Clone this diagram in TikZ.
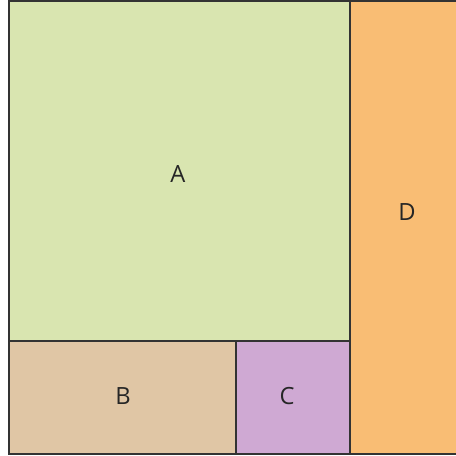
\documentclass[tikz,border=0pt]{standalone}
\usepackage{fontspec}
\setmainfont{Open Sans}
\definecolor{cA}{HTML}{D9E5B0}
\definecolor{cB}{HTML}{E0C6A5}
\definecolor{cC}{HTML}{CFA9D3}
\definecolor{cD}{HTML}{F9BD74}
\definecolor{edge}{HTML}{333333}
\tikzset{
  box/.style={draw=edge, line width=1.2pt},
  lbl/.style={font=\fontsize{13.5pt}{16pt}\selectfont, text=black!85, inner sep=0pt}
}
\begin{document}
\begin{tikzpicture}[x=0.02cm,y=-0.02cm]
\useasboundingbox (0,0) rectangle (456,456);
\clip (0,0) rectangle (456,456);
\fill[white] (0,0) rectangle (456,456);
\path[box, fill=cA] (9,1) rectangle (350,341);
\path[box, fill=cB] (9,341) rectangle (236,454);
\path[box, fill=cC] (236,341) rectangle (350,454);
\path[box, fill=cD] (350,1) rectangle (470,454);
\node[lbl] (a) at (178,174) {A};
\node[lbl] (b) at (123,396) {B};
\node[lbl] (c) at (287,396) {C};
\node[lbl] (d) at (407,212) {D};
\end{tikzpicture}
\end{document}
